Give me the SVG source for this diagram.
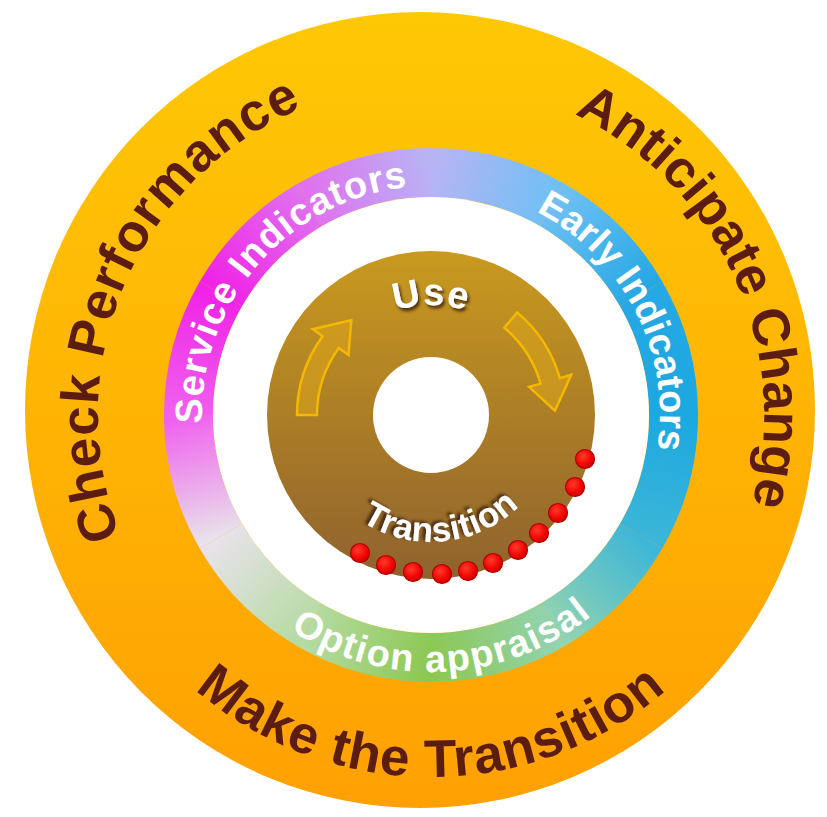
<svg xmlns="http://www.w3.org/2000/svg" xmlns:xlink="http://www.w3.org/1999/xlink" width="827" height="817" viewBox="0 0 827 817">
<defs>
<linearGradient id="gOrange" x1="0" y1="0" x2="0" y2="1"><stop offset="0" stop-color="#FEC805"/><stop offset="1" stop-color="#FFA002"/></linearGradient>
<linearGradient id="gBrown" x1="0" y1="0" x2="0" y2="1"><stop offset="0" stop-color="#C99A1E"/><stop offset="1" stop-color="#8F622E"/></linearGradient>
<radialGradient id="gDot" cx="0.4" cy="0.35" r="0.7"><stop offset="0" stop-color="#FF3A2A"/><stop offset="0.7" stop-color="#EE0000"/><stop offset="1" stop-color="#C00000"/></radialGradient>
<linearGradient id="s0" gradientUnits="userSpaceOnUse" x1="431" y1="172.5" x2="552.25" y2="205"><stop offset="0" stop-color="#B8B4F4"/><stop offset="1" stop-color="#6EC0F4"/></linearGradient>
<linearGradient id="s1" gradientUnits="userSpaceOnUse" x1="552.25" y1="205" x2="641" y2="293.75"><stop offset="0" stop-color="#6EC0F4"/><stop offset="1" stop-color="#26A8E4"/></linearGradient>
<linearGradient id="s2" gradientUnits="userSpaceOnUse" x1="641" y1="293.75" x2="673.5" y2="415"><stop offset="0" stop-color="#26A8E4"/><stop offset="1" stop-color="#1CA8E0"/></linearGradient>
<linearGradient id="s3" gradientUnits="userSpaceOnUse" x1="673.5" y1="415" x2="641" y2="536.25"><stop offset="0" stop-color="#1CA8E0"/><stop offset="1" stop-color="#3CB6D8"/></linearGradient>
<linearGradient id="s4" gradientUnits="userSpaceOnUse" x1="641" y1="536.25" x2="552.25" y2="625"><stop offset="0" stop-color="#3CB6D8"/><stop offset="1" stop-color="#92D3B0"/></linearGradient>
<linearGradient id="s5" gradientUnits="userSpaceOnUse" x1="552.25" y1="625" x2="431" y2="657.5"><stop offset="0" stop-color="#92D3B0"/><stop offset="1" stop-color="#8CC852"/></linearGradient>
<linearGradient id="s6" gradientUnits="userSpaceOnUse" x1="431" y1="657.5" x2="309.75" y2="625"><stop offset="0" stop-color="#8CC852"/><stop offset="1" stop-color="#B6DBA4"/></linearGradient>
<linearGradient id="s7" gradientUnits="userSpaceOnUse" x1="309.75" y1="625" x2="221" y2="536.25"><stop offset="0" stop-color="#B6DBA4"/><stop offset="1" stop-color="#E8E2EA"/></linearGradient>
<linearGradient id="s8" gradientUnits="userSpaceOnUse" x1="221" y1="536.25" x2="188.5" y2="415"><stop offset="0" stop-color="#E8E2EA"/><stop offset="1" stop-color="#F060EE"/></linearGradient>
<linearGradient id="s9" gradientUnits="userSpaceOnUse" x1="188.5" y1="415" x2="221" y2="293.75"><stop offset="0" stop-color="#F060EE"/><stop offset="1" stop-color="#F022E6"/></linearGradient>
<linearGradient id="s10" gradientUnits="userSpaceOnUse" x1="221" y1="293.75" x2="309.75" y2="205"><stop offset="0" stop-color="#F022E6"/><stop offset="1" stop-color="#E070F0"/></linearGradient>
<linearGradient id="s11" gradientUnits="userSpaceOnUse" x1="309.75" y1="205" x2="431" y2="172.5"><stop offset="0" stop-color="#E070F0"/><stop offset="1" stop-color="#B8B4F4"/></linearGradient>
<filter id="shUse" x="-20%" y="-20%" width="140%" height="140%"><feDropShadow dx="2" dy="3" stdDeviation="1.5" flood-color="#3A2008" flood-opacity="0.85"/></filter>
<filter id="shTr" x="-20%" y="-30%" width="140%" height="160%"><feDropShadow dx="-3" dy="-2" stdDeviation="1.5" flood-color="#3A2008" flood-opacity="0.85"/></filter>
<path id="pRingCW" d="M431,644 A229,229 0 1 1 431,186 A229,229 0 1 1 431,644"/>
<path id="pRingCCW" d="M431,158 A257,257 0 1 0 431,672 A257,257 0 1 0 431,158"/>
<path id="pOuterCW" d="M431,748 A333,333 0 1 1 431,82 A333,333 0 1 1 431,748"/>
<path id="pOuterCCW" d="M431,53 A362,362 0 1 0 431,777 A362,362 0 1 0 431,53"/>
<path id="pUse" d="M431,525 A110,110 0 1 1 431,305 A110,110 0 1 1 431,525"/>
<path id="pTrans" d="M431,288 A127,127 0 1 0 431,542 A127,127 0 1 0 431,288"/>
</defs>
<style>
.outer{font-family:"Liberation Sans",Arial,sans-serif;font-weight:bold;font-size:53px;fill:#5B1D12}
.ring{font-family:"Liberation Sans",Arial,sans-serif;font-weight:bold;font-size:38px;fill:#FFFFFF}
.inner{font-family:"Liberation Sans",Arial,sans-serif;font-weight:bold;fill:#FFFFFF}
.seg{fill:none;stroke-width:49}
.arrow{fill:#DCA51C;fill-opacity:0.55;stroke:#F5B800;stroke-width:2.5;stroke-linejoin:miter}
.dot{fill:url(#gDot);stroke:#B00000;stroke-width:1.2}
</style>
<rect width="827" height="817" fill="#FFFFFF"/>
<g id="outer-ring">
<ellipse cx="420" cy="410" rx="395" ry="398" fill="url(#gOrange)"/>
<text class="outer"><textPath href="#pOuterCW" startOffset="31.4%" text-anchor="middle" letter-spacing="1">Check Performance</textPath></text>
<text class="outer"><textPath href="#pOuterCW" startOffset="68.2%" text-anchor="middle">Anticipate Change</textPath></text>
<text class="outer"><textPath href="#pOuterCCW" startOffset="50%" text-anchor="middle" letter-spacing="1">Make the Transition</textPath></text>
</g>
<g id="indicator-ring">
<path class="seg" stroke="url(#s0)" d="M431,172.5 A242.5,242.5 0 0 1 552.25,205"/>
<path class="seg" stroke="url(#s1)" d="M552.25,205 A242.5,242.5 0 0 1 641,293.75"/>
<path class="seg" stroke="url(#s2)" d="M641,293.75 A242.5,242.5 0 0 1 673.5,415"/>
<path class="seg" stroke="url(#s3)" d="M673.5,415 A242.5,242.5 0 0 1 641,536.25"/>
<path class="seg" stroke="url(#s4)" d="M641,536.25 A242.5,242.5 0 0 1 552.25,625"/>
<path class="seg" stroke="url(#s5)" d="M552.25,625 A242.5,242.5 0 0 1 431,657.5"/>
<path class="seg" stroke="url(#s6)" d="M431,657.5 A242.5,242.5 0 0 1 309.75,625"/>
<path class="seg" stroke="url(#s7)" d="M309.75,625 A242.5,242.5 0 0 1 221,536.25"/>
<path class="seg" stroke="url(#s8)" d="M221,536.25 A242.5,242.5 0 0 1 188.5,415"/>
<path class="seg" stroke="url(#s9)" d="M188.5,415 A242.5,242.5 0 0 1 221,293.75"/>
<path class="seg" stroke="url(#s10)" d="M221,293.75 A242.5,242.5 0 0 1 309.75,205"/>
<path class="seg" stroke="url(#s11)" d="M309.75,205 A242.5,242.5 0 0 1 431,172.5"/>
<circle cx="431" cy="415" r="218" fill="#FFFFFF"/>
<text class="ring"><textPath href="#pRingCW" startOffset="36.4%" text-anchor="middle" letter-spacing="1">Service Indicators</textPath></text>
<text class="ring"><textPath href="#pRingCW" startOffset="67.5%" text-anchor="middle">Early Indicators</textPath></text>
<text class="ring"><textPath href="#pRingCCW" startOffset="50.8%" text-anchor="middle" letter-spacing="1.5">Option appraisal</textPath></text>
</g>
<g id="cycle">
<circle cx="431" cy="415" r="164" fill="url(#gBrown)"/>
<circle cx="431" cy="415" r="58" fill="#FFFFFF"/>
<text class="inner" font-size="38" filter="url(#shUse)"><textPath href="#pUse" startOffset="50%" text-anchor="middle" letter-spacing="1">Use</textPath></text>
<text class="inner" font-size="35" filter="url(#shTr)"><textPath href="#pTrans" startOffset="51.5%" text-anchor="middle" letter-spacing="0.5">Transition</textPath></text>
</g>
<g id="connectors">
<path class="arrow" d="M297,415 A134,134 0 0 1 322.6,336.2 L312.9,329.2 L351.3,320 L348.5,355 L338.8,348 A114,114 0 0 0 317,415 Z"/>
<path class="arrow" d="M517.1,312.4 A134,134 0 0 1 559.8,378.1 L571.3,374.8 L554.9,410.7 L529.1,386.9 L540.6,383.6 A114,114 0 0 0 504.3,327.7 Z"/>
</g>
<g id="transition-dots">
<circle class="dot" cx="585" cy="459" r="9.5"/>
<circle class="dot" cx="575" cy="487" r="9.5"/>
<circle class="dot" cx="558" cy="513" r="9.5"/>
<circle class="dot" cx="539" cy="533" r="9.5"/>
<circle class="dot" cx="518" cy="550" r="9.5"/>
<circle class="dot" cx="493" cy="563" r="9.5"/>
<circle class="dot" cx="468" cy="571" r="9.5"/>
<circle class="dot" cx="442" cy="574" r="9.5"/>
<circle class="dot" cx="413" cy="572" r="9.5"/>
<circle class="dot" cx="386" cy="565" r="9.5"/>
<circle class="dot" cx="360" cy="553" r="9.5"/>
</g>
</svg>
